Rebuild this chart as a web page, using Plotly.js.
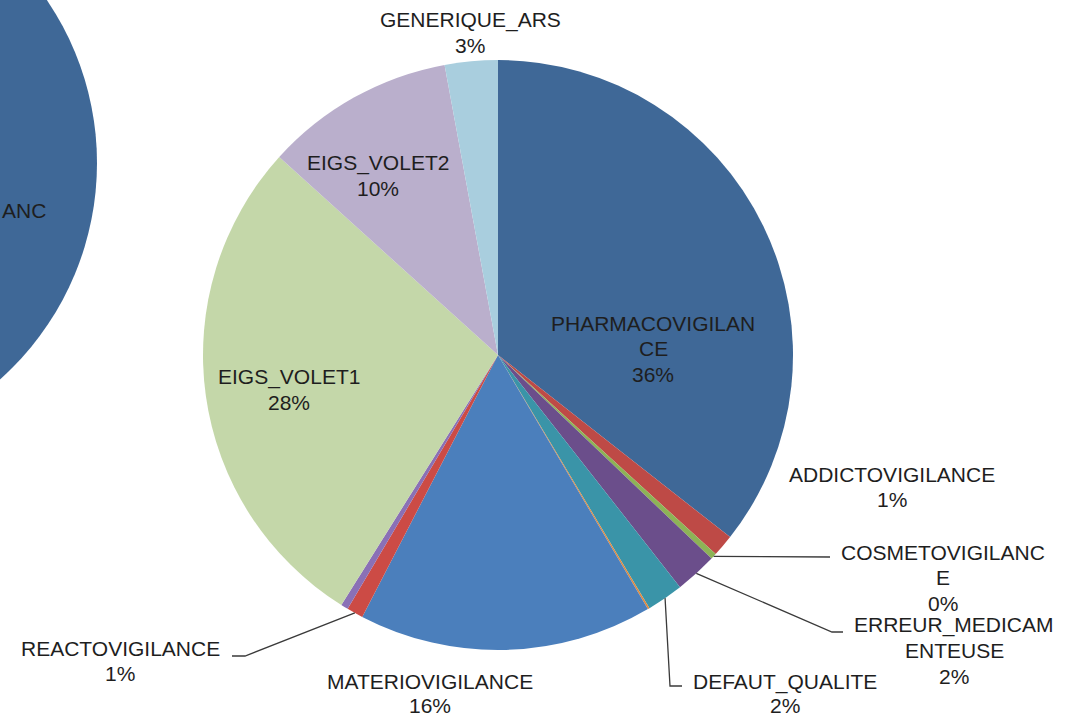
<!DOCTYPE html>
<html>
<head>
<meta charset="utf-8">
<script src="https://cdn.plot.ly/plotly-3.0.1.min.js"></script>
<style>html,body{margin:0;padding:0;background:#fff;}#chart{width:1071px;height:718px;}</style>
</head>
<body>
<div id="chart"></div>
<script>
// ---- data ----
var categories = ["PHARMACOVIGILANCE","ADDICTOVIGILANCE","COSMETOVIGILANCE","ERREUR_MEDICAMENTEUSE","DEFAUT_QUALITE","(sans libellé 1)","MATERIOVIGILANCE","REACTOVIGILANCE","(sans libellé 2)","EIGS_VOLET1","EIGS_VOLET2","GENERIQUE_ARS"];
var values = [35.6, 1.2, 0.33, 2.3, 2.0, 0.1, 16.1, 0.9, 0.4, 27.8, 10.4, 2.9];
var labelLines = [["PHARMACOVIGILAN","CE"],["ADDICTOVIGILANCE"],["COSMETOVIGILANC","E"],["ERREUR_MEDICAM","ENTEUSE"],["DEFAUT_QUALITE"],[],["MATERIOVIGILANCE"],["REACTOVIGILANCE"],[],["EIGS_VOLET1"],["EIGS_VOLET2"],["GENERIQUE_ARS"]];
var colors = ["#3F6897","#BE4A46","#8DB356","#6B4E8B","#3A94A8","#E08A3E","#4B7FBC","#CC4B45","#8A70B6","#C4D7A9","#BAAFCC","#A9CEDE"];

// ---- layout helpers (pixel positions of labels) ----
var W = 1071, H = 718;
var CX = 498, CY = 355, R = 295;
// first line centre of each label block, and line gap
var labelPos = [[653,323],[892,474],[943,552],[954,625],[785,682],null,[430,681],[120,648],null,[289,377],[378,163],[470,20]];
var lineGaps = [25.5,25.5,25.5,25.5,23,0,24,25.5,0,25.5,25.5,25.5];
// leader line elbows (label side) per category index
var leaders = {2:[[830,557]], 3:[[832,632],[843,632]], 4:[[670,686],[682,686]], 7:[[245,656],[232,656]]};

function X(p){return p/W;} function Y(p){return 1-p/H;}

var total = values.reduce(function(a,b){return a+b;},0);
var annotations = [], shapes = [];
var cum = 0;
var mids = [];
for (var i=0;i<values.length;i++){
  mids.push((cum + values[i]/2)/total*2*Math.PI);
  cum += values[i];
}
for (var i=0;i<categories.length;i++){
  if (!labelPos[i]) continue;
  var lines = labelLines[i].concat([Math.round(values[i]/total*100)+"%"]);
  for (var k=0;k<lines.length;k++){
    annotations.push({xref:"paper",yref:"paper",x:X(labelPos[i][0]),y:Y(labelPos[i][1]+k*lineGaps[i]),
      text:lines[k],showarrow:false,xanchor:"center",yanchor:"middle",
      font:{family:"Liberation Sans, Arial, sans-serif",size:21,color:"#1e1e1e"}});
  }
}
for (var key in leaders){
  var idx = +key, a = mids[idx];
  var sx = CX + R*Math.sin(a), sy = CY - R*Math.cos(a);
  var path = "M"+X(sx)+","+Y(sy);
  leaders[key].forEach(function(p){ path += " L"+X(p[0])+","+Y(p[1]); });
  shapes.push({type:"path",xref:"paper",yref:"paper",path:path,line:{color:"#3a3a3a",width:1.3}});
}
// cropped neighbouring pie on the left edge
shapes.unshift({type:"circle",xref:"paper",yref:"paper",layer:"below",
  x0:X(-193-290),x1:X(-193+290),y0:Y(163+290),y1:Y(163-290),
  fillcolor:"#3F6897",line:{width:0}});
annotations.push({xref:"paper",yref:"paper",x:0,y:Y(210),text:"ANC",showarrow:false,xanchor:"left",yanchor:"middle",
  font:{family:"Liberation Sans, Arial, sans-serif",size:21,color:"#1e1e1e"}});

var trace = {
  type:"pie", labels:categories, values:values, sort:false, direction:"clockwise", rotation:0,
  marker:{colors:colors, line:{width:0}}, textinfo:"none", hoverinfo:"label+percent",
  domain:{x:[X(CX-R),X(CX+R)], y:[Y(CY+R),Y(CY-R)]}
};
var layout = {width:W,height:H,margin:{l:0,r:0,t:0,b:0},showlegend:false,
  paper_bgcolor:"#ffffff",plot_bgcolor:"#ffffff",annotations:annotations,shapes:shapes};
Plotly.newPlot("chart",[trace],layout,{displayModeBar:false,staticPlot:true});
</script>
</body>
</html>
